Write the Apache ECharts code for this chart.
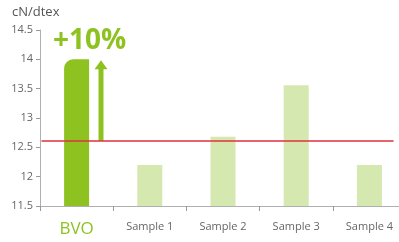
<!DOCTYPE html>
<html><head><meta charset="utf-8">
<script src="https://cdn.jsdelivr.net/npm/echarts@6/dist/echarts.min.js"></script>
<style>html,body{margin:0;padding:0;background:#fff}#c{width:399px;height:242px}</style>
</head><body><div id="c"></div>
<script>
var categories = ['BVO', 'Sample 1', 'Sample 2', 'Sample 3', 'Sample 4'];
var values = [14.0, 12.2, 12.68, 13.56, 12.2];
var referenceLevel = [12.61];
var yTicks = [11.5, 12, 12.5, 13, 13.5, 14, 14.5];
var unitLabel = 'cN/dtex';
var gainLabel = '+10%';

var GREEN = '#8dc220', PALE = '#d5e8b0';
var chart = echarts.init(document.getElementById('c'), null, {renderer: 'canvas'});
var font = '"Open Sans", "Noto Sans", sans-serif';
chart.setOption({
  animation: false,
  grid: {left: 40, width: 366, top: 30, bottom: 36, containLabel: false, outerBoundsMode: 'none'},
  xAxis: [{
    type: 'category', data: categories,
    axisLine: {lineStyle: {color: '#b0b0b0', width: 1}},
    axisTick: {show: true, length: 5, lineStyle: {color: '#999'}},
    axisLabel: {margin: 15, color: '#666', fontSize: 11, fontFamily: font,
      formatter: function (v) { return v === 'BVO' ? '{b|' + v + '}' : v; },
      rich: {b: {color: GREEN, fontSize: 17, fontFamily: font}}}
  }, {
    type: 'value', min: 0, max: 5, show: false
  }],
  yAxis: {
    type: 'value', min: yTicks[0], max: yTicks[yTicks.length - 1], interval: 0.5,
    axisLine: {show: true, lineStyle: {color: '#b0b0b0'}},
    axisTick: {show: true, length: 4, lineStyle: {color: '#999'}},
    splitLine: {show: false},
    axisLabel: {color: '#666', fontSize: 11, fontFamily: font, margin: 7}
  },
  series: [{
    type: 'bar', barWidth: 25, xAxisIndex: 0,
    data: values.map(function (v, i) {
      return {value: v, itemStyle: i === 0 ? {color: GREEN, borderRadius: [9, 0, 0, 0]} : {color: PALE}};
    })
  }, {
    type: 'line', xAxisIndex: 1, symbol: 'none', z: 5,
    lineStyle: {color: '#e0303c', width: 1.5},
    data: [[0.02, referenceLevel[0]], [4.83, referenceLevel[0]]]
  }]
});

var yRef = chart.convertToPixel({yAxisIndex: 0}, referenceLevel[0]);
var yTop = chart.convertToPixel({yAxisIndex: 0}, values[0]);
var ax = 101;
chart.setOption({
  graphic: [{
    type: 'text', left: 12, top: 6,
    style: {text: unitLabel, fill: '#555', font: '13px ' + font}
  }, {
    type: 'rect', shape: {x: ax - 2.5, y: yTop + 8, width: 5, height: yRef - yTop - 8},
    style: {fill: GREEN}
  }, {
    type: 'polygon', shape: {points: [[ax - 6.5, yTop + 10], [ax + 6.5, yTop + 10], [ax, yTop + 1]]},
    style: {fill: GREEN}
  }, {
    type: 'text', x: 53, y: 27,
    style: {text: gainLabel, fill: GREEN, font: 'bold 28px ' + font}
  }]
});
</script></body></html>
